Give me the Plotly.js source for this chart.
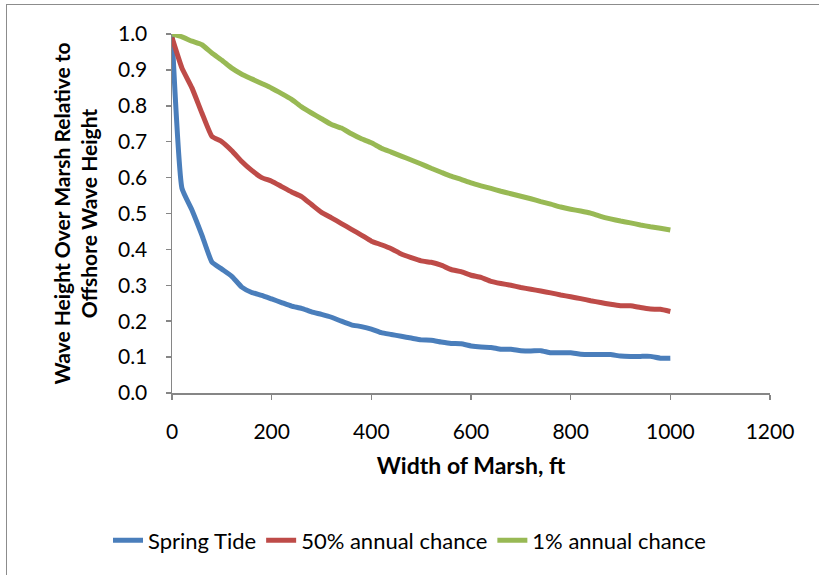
<!DOCTYPE html>
<html><head><meta charset="utf-8">
<script src="https://cdn.plot.ly/plotly-3.0.1.min.js"></script>
<style>
html,body{margin:0;padding:0;background:#fff;}
#wrap{position:relative;width:819px;height:575px;}
#chart{position:absolute;left:0;top:0;width:819px;height:575px;}
#frame{position:absolute;left:6px;top:4px;width:813px;height:571px;border-left:1.5px solid #8c8c8c;border-top:1.5px solid #8c8c8c;pointer-events:none;}
</style></head>
<body><div id="wrap"><div id="chart"></div><div id="frame"></div></div>
<script>
const widthFt = [0,20,40,60,80,100,120,140,160,180,200,220,240,260,280,300,320,340,360,380,400,420,440,460,480,500,520,540,560,580,600,620,640,660,680,700,720,740,760,780,800,820,840,860,880,900,920,940,960,980,1000];
const springTide = [1.0,0.57,0.51,0.44,0.365,0.345,0.325,0.295,0.28,0.272,0.262,0.252,0.242,0.236,0.226,0.219,0.211,0.2,0.19,0.185,0.178,0.168,0.163,0.158,0.153,0.148,0.147,0.142,0.138,0.137,0.131,0.128,0.127,0.122,0.122,0.118,0.117,0.118,0.112,0.112,0.112,0.108,0.107,0.107,0.107,0.103,0.102,0.102,0.102,0.097,0.097];
const annual50 = [0.99,0.905,0.85,0.78,0.715,0.7,0.675,0.645,0.62,0.6,0.59,0.575,0.56,0.547,0.525,0.503,0.488,0.472,0.456,0.44,0.423,0.413,0.402,0.387,0.377,0.368,0.364,0.356,0.344,0.338,0.328,0.322,0.311,0.305,0.3,0.294,0.289,0.284,0.279,0.273,0.268,0.263,0.257,0.252,0.247,0.243,0.243,0.238,0.234,0.233,0.227];
const annual1 = [1.0,0.992,0.98,0.97,0.947,0.927,0.905,0.888,0.875,0.862,0.849,0.834,0.818,0.797,0.78,0.764,0.748,0.738,0.722,0.708,0.697,0.682,0.671,0.66,0.649,0.638,0.626,0.615,0.604,0.595,0.585,0.577,0.57,0.562,0.555,0.548,0.541,0.533,0.526,0.518,0.512,0.507,0.501,0.492,0.485,0.479,0.474,0.468,0.463,0.459,0.454];
const seriesNames = ["Spring Tide","50% annual chance","1% annual chance"];
const colors = ["#4a7ebb","#be4b48","#98b954"];
const xTitle = "Width of Marsh, ft";
const yTitle = "Wave Height Over Marsh Relative to<br>Offshore Wave Height";

const font = "Lato, 'Open Sans', sans-serif";
const ys = [springTide, annual50, annual1];
const traces = ys.map((y,i)=>({x:widthFt,y:y,type:'scatter',mode:'lines',name:seriesNames[i],line:{color:colors[i],width:5,shape:'spline',smoothing:0.4}}));
const axisCommon = {showgrid:false,zeroline:false,showline:true,linecolor:'#868686',linewidth:1.5,ticks:'outside',ticklen:5,tickcolor:'#868686',tickwidth:1.5,tickfont:{family:font,size:21,color:'#000'}};
const layout = {
  width:819,height:575,
  margin:{l:172,r:49,t:34,b:182},
  paper_bgcolor:'#fff',plot_bgcolor:'#fff',
  showlegend:true,
  legend:{orientation:'h',x:0.5,xanchor:'center',xref:'container',y:0.06,yanchor:'middle',yref:'container',font:{family:font,size:22,color:'#000'},itemwidth:30,tracegroupgap:0},
  xaxis:Object.assign({},axisCommon,{range:[0,1200],dtick:200,tick0:0,ticklabelstandoff:14,title:{text:xTitle,font:{family:font,size:23,color:'#000',weight:'bold'},standoff:16}}),
  yaxis:Object.assign({},axisCommon,{range:[0,1],dtick:0.1,tick0:0,tickformat:'.1f',ticklabelstandoff:14,title:{text:yTitle,font:{family:font,size:21,color:'#000',weight:'bold'},standoff:14}})
};
Plotly.newPlot('chart',traces,layout,{displayModeBar:false,staticPlot:true});
</script></body></html>
